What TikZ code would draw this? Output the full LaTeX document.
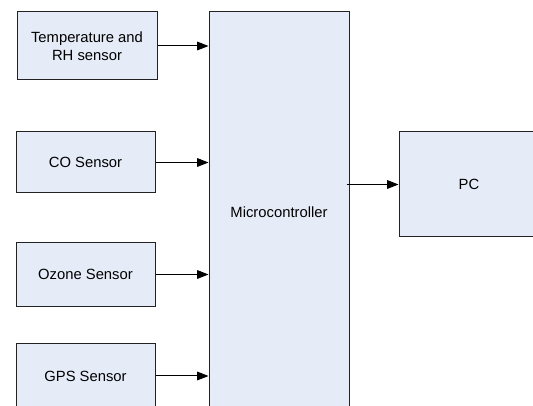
\documentclass[tikz,border=0pt]{standalone}
\usepackage{fontspec}
\setmainfont{Liberation Sans}
\usetikzlibrary{arrows.meta,positioning}
\definecolor{BoxFill}{HTML}{E6ECF7}
\definecolor{BoxLine}{HTML}{222222}
\tikzset{
    % Base block style
    blocknode/.style={
        draw=BoxLine,
        fill=BoxFill,
        line width=0.75pt,
        align=center,
        inner sep=0pt,
        font=\fontsize{11.1}{13.2}\selectfont
    },
    % Sensor blocks
    sensornode/.style={
        blocknode,
        minimum width=104.25pt,
        minimum height=48pt
    },
    % Arrow style
    myarrow/.style={
        -{Triangle[length=8.5pt,width=6.5pt]},
        line width=0.75pt,
        draw=black
    }
}
\begin{document}
\begin{tikzpicture}[x=0.75pt, y=-0.75pt]
        \useasboundingbox (0,0) rectangle (533,406);
        \clip (0,0) rectangle (533,406);
        % Sensors
        \node[sensornode, minimum width=105pt, minimum height=51pt] (temp) at (87,46) {Temperature and\\RH sensor};
        \node[sensornode, minimum height=45.75pt] (co) at (85.5,162.5) {CO Sensor};
        \node[sensornode] (ozone) at (85.5,274.5) {Ozone Sensor};
        \node[sensornode] (gps) at (85.5,376) {GPS Sensor};

        % Controller and PC
        \node[blocknode, minimum width=105pt, minimum height=300pt] (micro) at (279,212) {Microcontroller};
        \node[blocknode, minimum width=105pt, minimum height=78.75pt] (pc) at (469,184.5) {PC};

        % Connections
        \draw[myarrow] (temp.east) -- (temp.east -| micro.west);
        \draw[myarrow] (co.east) -- (co.east -| micro.west);
        \draw[myarrow] (ozone.east) -- (ozone.east -| micro.west);
        \draw[myarrow] (gps.east) -- (gps.east -| micro.west);
        \draw[myarrow] ([xshift=-2.25pt]micro.east |- pc.west) -- (pc.west);
    \end{tikzpicture}
\end{document}
